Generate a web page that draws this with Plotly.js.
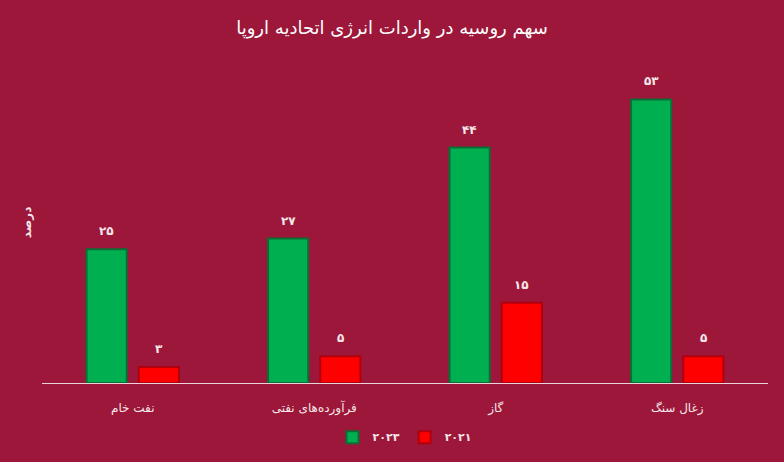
<!DOCTYPE html>
<html>
<head>
<meta charset="utf-8">
<script src="https://cdn.plot.ly/plotly-3.0.1.min.js"></script>
<style>
html,body{margin:0;padding:0;background:#9c1739;}
#chart{width:784px;height:462px;}
</style>
</head>
<body>
<div id="chart"></div>
<script>
const categories = ["نفت خام", "فرآورده‌های نفتی", "گاز", "زغال سنگ"];
const values2023 = [25, 27, 44, 53];
const values2021 = [3, 5, 15, 5];
const labels2023 = ["۲۵", "۲۷", "۴۴", "۵۳"];
const labels2021 = ["۳", "۵", "۱۵", "۵"];
const seriesNames = ["۲۰۲۳", "۲۰۲۱"];

const font = "DejaVu Sans, sans-serif";
const bg = "#9c1739";
const txt = "#f4e6ea";

const traces = [
  {
    type: "bar", x: categories, y: values2023, name: seriesNames[0],
    marker: {color: "#00b050", line: {color: "#0b6e36", width: 2}},
    hoverinfo: "none"
  },
  {
    type: "bar", x: categories, y: values2021, name: seriesNames[1],
    marker: {color: "#ff0000", line: {color: "#b0000f", width: 2}},
    hoverinfo: "none"
  }
];

const annotations = [];
categories.forEach((c, i) => {
  annotations.push({x: c, y: values2023[i], text: "<b>" + labels2023[i] + "</b>", showarrow: false,
    xshift: -26, yshift: 18, yanchor: "middle", font: {size: 12, color: txt, family: font}});
  annotations.push({x: c, y: values2021[i], text: "<b>" + labels2021[i] + "</b>", showarrow: false,
    xshift: 26, yshift: 18, yanchor: "middle", font: {size: 12, color: txt, family: font}});
});

const layout = {
  width: 784, height: 462,
  paper_bgcolor: bg, plot_bgcolor: bg,
  margin: {l: 42, r: 16, t: 62, b: 78},
  font: {family: font, color: txt},
  title: {text: "سهم روسیه در واردات انرژی اتحادیه اروپا", x: 0.5, xanchor: "center", y: 0.94, yanchor: "middle",
          font: {size: 18, color: "#ffffff", family: font}},
  barmode: "group", bargap: 0.425, bargroupgap: 0.23,
  showlegend: true,
  legend: {orientation: "h", x: 0.5, xanchor: "center", y: -0.165, yanchor: "middle", itemwidth: 30,
           font: {size: 11, color: txt, family: font, weight: "bold"}, traceorder: "normal"},
  annotations: annotations,
  xaxis: {showline: true, linecolor: "#ecd2d9", linewidth: 1, ticks: "outside", ticklen: 14, tickcolor: "rgba(0,0,0,0)",
          showgrid: false, tickfont: {size: 12, color: txt, family: font}},
  yaxis: {range: [0, 60], showgrid: false, zeroline: false, showticklabels: false, ticks: "",
          title: {text: "<b>درصد</b>", font: {size: 12, color: txt, family: font}, standoff: 6}}
};

Plotly.newPlot("chart", traces, layout, {displayModeBar: false, staticPlot: true});
</script>
</body>
</html>
